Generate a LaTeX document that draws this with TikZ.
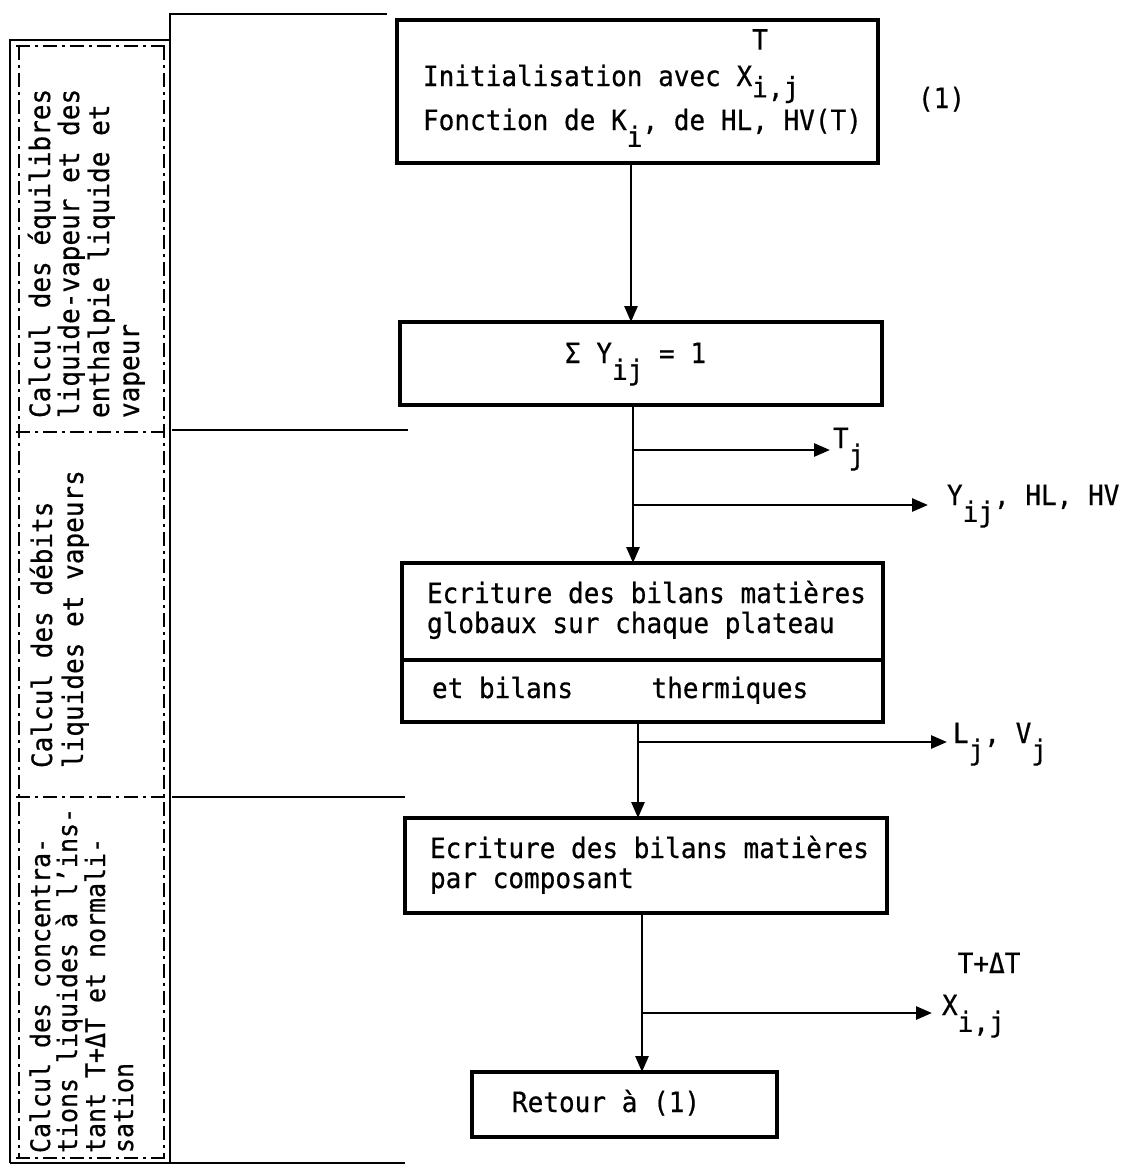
\documentclass[tikz,border=0pt]{standalone}
\usepackage{fontspec}
\setmainfont{DejaVu Sans Mono}[FakeStretch=0.93,FakeBold=0.6]
\usetikzlibrary{arrows.meta,calc}
\newcommand{\lo}[1]{\raisebox{-0.6em}{#1}}
\newcommand{\loA}[1]{\raisebox{-0.4em}{#1}}
\newcommand{\hiA}[1]{\raisebox{1.3em}{#1}}
\newcommand{\hiB}[1]{\raisebox{1.5em}{#1}}
\begin{document}
\begin{tikzpicture}[x=0.5pt,y=-0.5pt,
  every node/.style={inner sep=0pt,outer sep=0pt},
  box/.style={draw,line width=1.6pt},
  txt/.style={anchor=base west,font=\fontsize{14pt}{16pt}\selectfont},
  side/.style={txt,rotate=90},
  sidesm/.style={side,font=\fontsize{13.4pt}{16pt}\selectfont},
  ln/.style={line width=1.4pt},
  arr/.style={line width=1.4pt,-{Triangle[length=8pt,width=6.5pt]}},
  panel/.style={line width=1.3pt},
  dd/.style={line width=0.8pt,dash pattern=on 7pt off 2.5pt on 1.5pt off 2.5pt}]
\useasboundingbox[fill=white] (0,0) rectangle (1130,1169);

% ---- left panel ----
\draw[panel] (10,1163) -- (10,40) -- (170,40);
\draw[panel] (170,1163) -- (170,14) -- (387,14);
\draw[panel] (172,430) -- (408,430);
\draw[panel] (172,797) -- (405,797);
\draw[panel] (10,1163) -- (405,1163);
\draw[dd] (16,46) -- (166,46);
\draw[dd] (16,432) -- (166,432);
\draw[dd] (16,797) -- (166,797);
\draw[dd] (16,1158) -- (166,1158);
\draw[dd] (19,46) -- (19,1158);
\draw[dd] (164,46) -- (164,1158);

\node[side] (p1a) at (50,418) {Calcul des équilibres};
\node[side] (p1b) at (79,418) {liquide-vapeur et des};
\node[side] (p1c) at (109,418) {enthalpie liquide et};
\node[side] (p1d) at (139,418) {vapeur};
\node[side] (p2a) at (52,768) {Calcul des débits};
\node[side] (p2b) at (83,768) {liquides et vapeurs};
\node[sidesm] (p3a) at (50,1153) {Calcul des concentra-};
\node[sidesm] (p3b) at (77,1153) {tions liquides à l'ins-};
\node[sidesm] (p3c) at (105,1153) {tant T+ΔT et normali-};
\node[sidesm] (p3d) at (133,1153) {sation};

% ---- boxes ----
\node[box,minimum width=240.5pt,minimum height=71.5pt] (box1) at (637.5,91.5) {};
\node[box,minimum width=241pt,minimum height=41.5pt] (box2) at (641,363.5) {};
\node[box,minimum width=240.5pt,minimum height=79.5pt] (box3) at (642.5,642.5) {};
\node[box,minimum width=241pt,minimum height=47.5pt] (box4) at (646,865.5) {};
\node[box,minimum width=152.5pt,minimum height=32.5pt] (box5) at (624.5,1104.5) {};
\coordinate (div) at (0,660);
\draw[line width=1.6pt] (box3.west |- div) -- (box3.east |- div);

% ---- texts ----
\node[txt] (t1a) at (423,86) {Initialisation avec X\rlap{\hiA{T}}\loA{i,j}};
\node[txt] (t1b) at (423,130) {Fonction de K\lo{i}, de HL, HV(T)};
\node[txt] (one) at (918,108) {(1)};
\node[txt] (t2) at (565,363) {Σ Y\lo{ij} = 1};
\node[txt] (tj) at (833,448) {T\lo{j}};
\node[txt] (yl) at (947,505) {Y\lo{ij}, HL, HV};
\node[txt] (t3a) at (427,603) {Ecriture des bilans matières};
\node[txt] (t3b) at (427,633) {globaux sur chaque plateau};
\node[txt] (t3c) at (432,698) {et bilans~~~~~thermiques};
\node[txt] (lv) at (953,743) {L\lo{j}, V\lo{j}};
\node[txt] (t4a) at (430,858) {Ecriture des bilans matières};
\node[txt] (t4b) at (430,888) {par composant};
\node[txt] (xl) at (942,1015) {X\rlap{\hiB{T+ΔT}}\lo{i,j}};
\node[txt] (t5) at (512,1112) {Retour à (1)};

% ---- connectors ----
\coordinate (s1) at (631,0);
\coordinate (s2) at (633,0);
\coordinate (s3) at (638,0);
\coordinate (s4) at (642,0);
\coordinate (b1) at (633,450);
\coordinate (b2) at (633,505);
\coordinate (b3) at (638,742);
\coordinate (b4) at (642,1013);
\draw[arr] (box1.south -| s1) -- (box2.north -| s1);
\draw[arr] (box2.south -| s2) -- (box3.north -| s2);
\draw[arr] (box3.south -| s3) -- (box4.north -| s3);
\draw[arr] (box4.south -| s4) -- (box5.north -| s4);
\draw[arr] (b1) -- ($(b1 -| tj.west)+(-3,0)$);
\draw[arr] (b2) -- ($(b2 -| yl.west)+(-19,0)$);
\draw[arr] (b3) -- ($(b3 -| lv.west)+(-6,0)$);
\draw[arr] (b4) -- ($(b4 -| xl.west)+(-10,0)$);
\end{tikzpicture}
\end{document}
